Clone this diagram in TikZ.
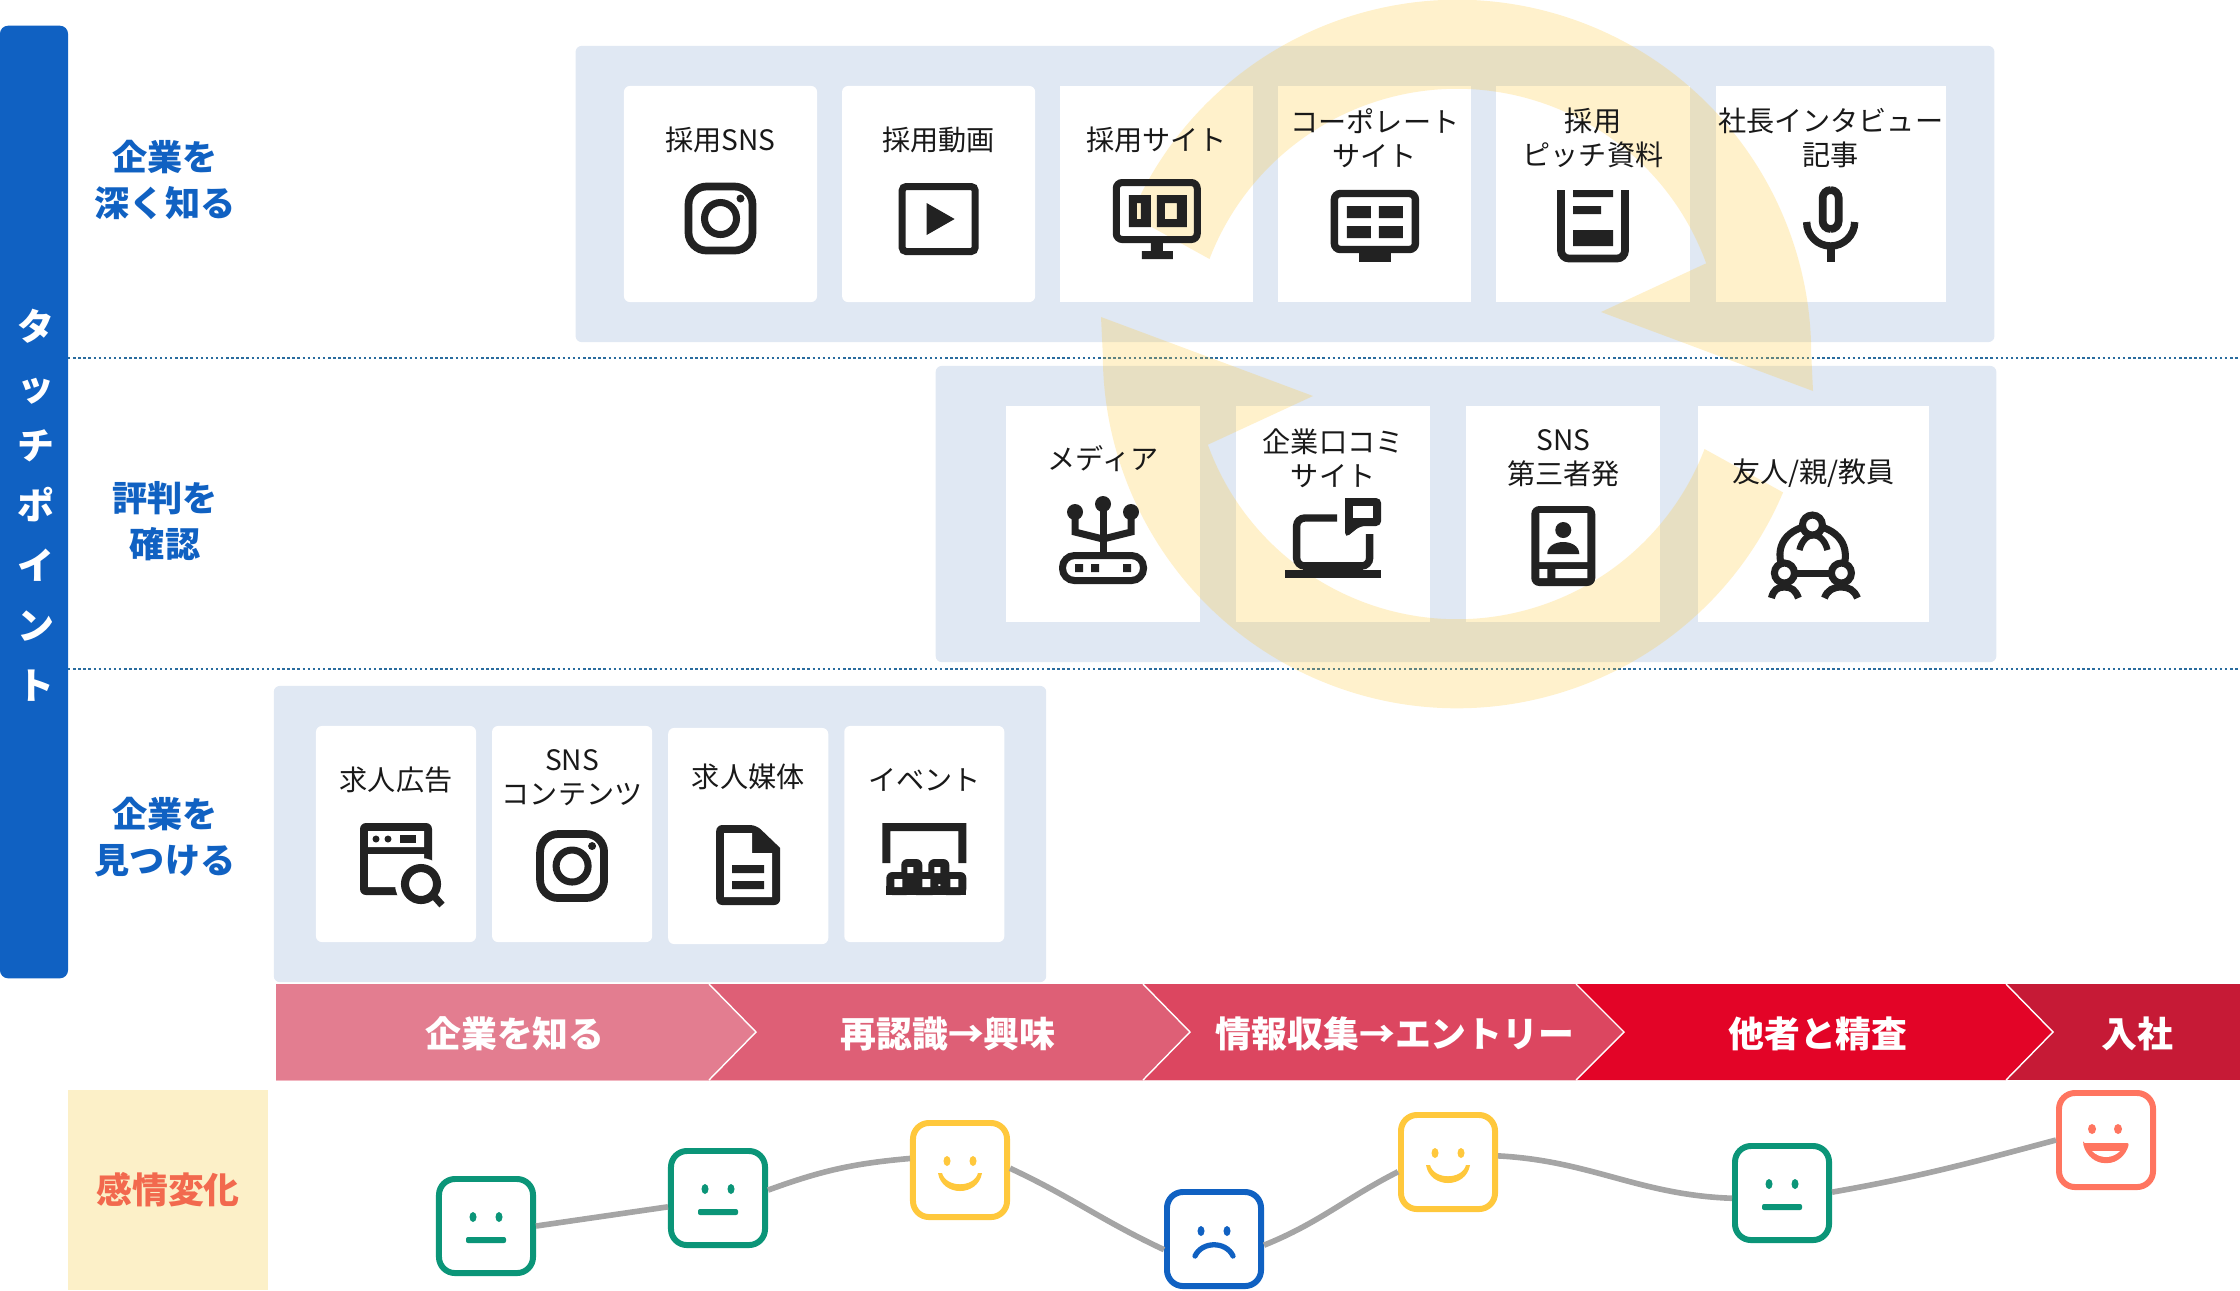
\documentclass[tikz,border=0pt]{standalone}
\usepackage{fontspec}
\setmainfont{Noto Sans CJK JP}
\usetikzlibrary{positioning}
\definecolor{sideblue}{HTML}{1061C2}
\definecolor{panelblue}{HTML}{E0E8F3}
\definecolor{dotblue}{HTML}{2A6C9E}
\definecolor{icondark}{HTML}{222222}
\definecolor{ringyellow}{HTML}{FFC832}
\definecolor{bandone}{HTML}{E37D90}
\definecolor{bandtwo}{HTML}{DE5F76}
\definecolor{bandthree}{HTML}{DC4660}
\definecolor{bandfour}{HTML}{E30427}
\definecolor{bandfive}{HTML}{C61A36}
\definecolor{moodbox}{HTML}{FCF0C8}
\definecolor{moodtext}{HTML}{F2694E}
\definecolor{moodline}{HTML}{A5A5A5}
\definecolor{facegreen}{HTML}{0B9578}
\definecolor{faceyellow}{HTML}{FFC83C}
\definecolor{facecoral}{HTML}{FF7560}
\tikzset{
  pics/iconinsta/.style={code={
    \draw[icondark, line width=2.2pt, rounded corners=0.18cm] (-32,-32) rectangle (32,32);
    \draw[icondark, line width=2pt] (0,0) circle[radius=16];
    \fill[icondark] (20,-20) circle[radius=4];
  }},
  pics/iconplay/.style={code={
    \draw[icondark, line width=2pt, rounded corners=0.04cm] (-36.5,-32.5) rectangle (36.5,32.5);
    \fill[icondark] (-12,-16) -- (16,0) -- (-12,16) -- cycle;
  }},
  pics/iconscreen/.style={code={
    \draw[icondark, line width=2pt, rounded corners=0.06cm] (-40.5,-36.5) rectangle (40.5,20.5);
    \fill[icondark, even odd rule] (-28,-24) rectangle (-6,8) (-20,-16) rectangle (-16,0) (0,-24) rectangle (30,8) (8,-16) rectangle (20,0);
    \fill[icondark] (-6,24) rectangle (6,32) (-15,32) rectangle (16,40);
  }},
  pics/iconboard/.style={code={
    \draw[icondark, line width=2.1pt, rounded corners=0.06cm] (-40.5,-32.5) rectangle (40.5,23.5);
    \fill[icondark] (-28,-20) rectangle (-4,-8) (4,-20) rectangle (28,-8);
    \fill[icondark] (-28,0) rectangle (-4,12) (4,0) rectangle (28,12);
    \fill[icondark] (-16,27) rectangle (16,36);
  }},
  pics/iconpitch/.style={code={
    \draw[icondark, line width=2.2pt, rounded corners=0.08cm] (-32,-36) -- (-32,32.5) -- (32,32.5) -- (32,-36);
    \fill[icondark] (-20,-36) rectangle (20,-29) (-20,-20) rectangle (8,-12) (-20,4) rectangle (20,20);
  }},
  pics/iconmic/.style={code={
    \draw[icondark, line width=2.2pt, rounded corners=0.08cm] (-8,-36) rectangle (8,3);
    \draw[icondark, line width=2.1pt] (-24,-4) .. controls (-24,9.2) and (-13.2,20) .. (0,20) .. controls (13.2,20) and (24,9.2) .. (24,-4);
    \draw[icondark, line width=2.2pt] (0,20) -- (0,36);
  }},
  pics/iconrouter/.style={code={
    \draw[icondark, line width=2pt, rounded corners=0.12cm] (-40.5,11.5) rectangle (40.5,36.5);
    \fill[icondark] (-28,20) rectangle (-20,28) (-12,20) rectangle (-4,28) (20,20) rectangle (28,28);
    \draw[icondark, line width=2pt] (0,-40) -- (0,8);
    \draw[icondark, line width=2pt] (-28,-32) -- (-28,-12) -- (0,-5) -- (28,-12) -- (28,-32);
    \fill[icondark] (-28,-32) circle[radius=8] (0,-40) circle[radius=8] (28,-32) circle[radius=8];
  }},
  pics/iconlaptop/.style={code={
    \fill[icondark] (-48,32) rectangle (48,40);
    \draw[icondark, line width=2.1pt, rounded corners=0.08cm] (4,-20) -- (-36.5,-20) -- (-36.5,28) -- (36.5,28) -- (36.5,-4);
    \fill[icondark] (-30,24) rectangle (30,33);
    \fill[icondark, rounded corners=0.05cm] (12,-40) -- (48,-40) -- (48,-12) -- (27,-12) -- (12,0) [sharp corners] -- cycle;
    \fill[white] (20,-32) rectangle (40,-20);
  }},
  pics/iconphone/.style={code={
    \fill[icondark, rounded corners=0.08cm] (-32,-40) rectangle (32,40);
    \fill[white] (-24,-33) rectangle (24,16) (-24,23) rectangle (-16,32) (-8,23) rectangle (24,32);
    \fill[icondark] (0,-16) circle[radius=8];
    \fill[icondark] (-16,8) .. controls (-16,0) and (-8,-4) .. (0,-4) .. controls (8,-4) and (16,0) .. (16,8) -- cycle;
  }},
  pics/iconpeople/.style={code={
    \draw[icondark, line width=2pt] (-29,18) .. controls (-42,-10) and (-25,-27) .. (-1,-30) .. controls (23,-27) and (40,-10) .. (28,18);
    \draw[icondark, line width=2pt] (-29,18) -- (28,18);
    \draw[icondark, line width=1.8pt] (-14,-5) .. controls (-12,-14) and (-6,-20) .. (0,-20) .. controls (6,-20) and (12,-14) .. (14,-5);
    \draw[icondark, line width=2pt, fill=white] (-1,-30) circle[radius=10];
    \draw[icondark, line width=2pt, fill=white] (-29,18) circle[radius=10];
    \draw[icondark, line width=2pt, fill=white] (28,18) circle[radius=10];
    \draw[icondark, line width=2pt] (-42,43) .. controls (-40,35) and (-36,32) .. (-29,32) .. controls (-22,32) and (-18,35) .. (-15,43);
    \draw[icondark, line width=2pt] (11,43) .. controls (14,35) and (20,32) .. (28,32) .. controls (35,32) and (41,35) .. (44,43);
  }},
  pics/iconsearch/.style={code={
    \fill[icondark, rounded corners=0.06cm] (-36,-37) rectangle (36,35);
    \fill[white] (-28,-29) rectangle (28,-13) (-28,-6) rectangle (28,27);
    \fill[icondark] (-20,-21) circle[radius=3.5] (-8,-21) circle[radius=3.5];
    \fill[icondark] (4,-25) rectangle (20,-17);
    \fill[white] (25,24) circle[radius=26];
    \draw[icondark, line width=2.3pt] (25,24) circle[radius=16];
    \draw[icondark, line width=2pt] (38,36) -- (46,45);
  }},
  pics/iconfile/.style={code={
    \fill[icondark, rounded corners=0.06cm] (-32,-40) -- (8,-40) [sharp corners] -- (32,-17) [rounded corners=0.06cm] -- (32,40) -- (-32,40) -- cycle;
    \fill[white] (-24,-32) -- (4,-32) -- (4,-12) -- (24,-12) -- (24,32) -- (-24,32) -- cycle;
    \fill[icondark] (-16,0) rectangle (16,8) (-16,16) rectangle (16,24);
  }},
  pics/iconevent/.style={code={
    \fill[icondark] (-42,-37) rectangle (42,-29) (-42,-37) rectangle (-34,3) (34,-37) rectangle (42,3);
    \fill[icondark, rounded corners=0.06cm] (-23,-1) rectangle (-2,24) (4,-1) rectangle (25,24);
    \fill[icondark, rounded corners=0.06cm] (-38,12) rectangle (-12,35) (-14,12) rectangle (14,35) (16,12) rectangle (42,35);
    \fill[icondark] (-38,26) rectangle (42,35);
    \fill[white] (-30,19) rectangle (-22,27) (-2,19) rectangle (6,27) (26,19) rectangle (34,27);
    \fill[white] (-17,7) rectangle (-11,13) (10,7) rectangle (16,13);
  }},
  pics/moodflat/.style={code={
    \fill[#1] (-13,-9) ellipse[x radius=3.5,y radius=5] (13,-9) ellipse[x radius=3.5,y radius=5];
    \fill[#1, rounded corners=0.02cm] (-20,11) rectangle (20,17);
  }},
  pics/moodsmile/.style={code={
    \fill[#1] (-13,-9) ellipse[x radius=3.5,y radius=5] (13,-9) ellipse[x radius=3.5,y radius=5];
    \fill[#1] (-22,3) .. controls (-18,27) and (18,27) .. (22,3) -- (18,3) .. controls (14,18) and (-14,18) .. (-18,3) -- cycle;
  }},
  pics/moodfrown/.style={code={
    \fill[#1] (-13,-8) ellipse[x radius=3.5,y radius=5] (13,-8) ellipse[x radius=3.5,y radius=5];
    \draw[#1, line width=1.5pt, line cap=round] (-19,17) .. controls (-12,2) and (12,2) .. (19,17);
  }},
  pics/moodopen/.style={code={
    \fill[#1] (-14,-11) ellipse[x radius=4,y radius=5] (12,-11) ellipse[x radius=4,y radius=5];
    \fill[#1, rounded corners=0.02cm] (-23,3) -- (23,3) .. controls (20,16) and (10,23) .. (0,23) .. controls (-10,23) and (-20,16) .. cycle;
    \fill[white] (-14,11) -- (14,11) .. controls (10,15) and (5,17) .. (0,17) .. controls (-5,17) and (-10,15) .. cycle;
  }}
}
\begin{document}
\begin{tikzpicture}[
  x=0.01cm, y=-0.01cm,
  sidebar/.style={fill=sideblue, rounded corners=0.08cm, minimum width=0.68cm, minimum height=9.52cm, inner sep=0pt, outer sep=0pt},
  sidetext/.style={text=white, align=center, inner sep=0pt, font=\fontsize{10.5}{17}\selectfont\bfseries},
  rowlabel/.style={text=sideblue, align=center, inner sep=0pt, font=\fontsize{10}{13}\selectfont\bfseries},
  panel/.style={fill=panelblue, rounded corners=0.06cm, minimum height=2.96cm, inner sep=0pt, outer sep=0pt},
  card/.style={fill=white, rounded corners=0.06cm, minimum width=1.93cm, minimum height=2.16cm, inner sep=0pt, outer sep=0pt},
  cardsq/.style={card, sharp corners},
  cardtext/.style={align=center, inner sep=0pt, text=black!90, font=\fontsize{8}{9.7}\selectfont},
  rowline/.style={draw=dotblue, line width=0.55pt, dash pattern=on 0.7pt off 0.75pt},
  bandtext/.style={text=white, inner sep=0pt, font=\fontsize{10.2}{12}\selectfont\bfseries},
  ring/.style={fill=ringyellow, fill opacity=0.25},
  moodlabel/.style={fill=moodbox, minimum width=2cm, minimum height=2cm, inner sep=0pt, outer sep=0pt, text=moodtext, font=\fontsize{10.2}{12}\selectfont\bfseries},
  face/.style={fill=white, line width=1.7pt, rounded corners=0.16cm, minimum width=0.94cm, minimum height=0.94cm, inner sep=0pt},
  wave/.style={draw=moodline, line width=1.6pt}
]
\useasboundingbox (0,0) rectangle (2240,1290);

\node[sidebar] (touch) at (34,502) {};
\node[sidetext] (ttouch) at (36,505) {タ\\ッ\\チ\\ポ\\イ\\ン\\ト};
\node[rowlabel] (deep) at (165,180) {企業を\\深く知る};
\node[rowlabel] (repute) at (165,521) {評判を\\確認};
\node[rowlabel] (find) at (165,837) {企業を\\見つける};

\draw[rowline] (touch.east |- 0,358) -- (2240,358);
\draw[rowline] (touch.east |- 0,669) -- (2240,669);

\node[panel, minimum width=14.18cm] (paneldeep) at (1285,194) {};
\node[panel, minimum width=10.6cm] (panelrepute) at (1466,514) {};
\node[panel, minimum width=7.72cm] (panelfind) at (660,834) {};

\node[card] (sns) at (720.5,194) {};
\node[card, right=0.25cm of sns] (video) {};
\node[cardsq, right=0.25cm of video] (site) {};
\node[cardsq, right=0.25cm of site] (corp) {};
\node[cardsq, right=0.25cm of corp] (pitch) {};
\node[cardsq, right=0.26cm of pitch, minimum width=2.3cm] (ceo) {};

\node[cardsq, minimum width=1.94cm] (media) at (1103,514) {};
\node[cardsq, minimum width=1.94cm, right=0.36cm of media] (kuchikomi) {};
\node[cardsq, minimum width=1.94cm, right=0.36cm of kuchikomi] (third) {};
\node[cardsq, minimum width=2.3cm, right=0.38cm of third] (friend) {};

\node[card, minimum width=1.6cm] (jobad) at (396,834) {};
\node[card, minimum width=1.6cm, right=0.16cm of jobad] (content) {};
\node[card, minimum width=1.6cm, right=0.16cm of content, yshift=-0.02cm] (jobmedia) {};
\node[card, minimum width=1.6cm, right=0.16cm of jobmedia, yshift=0.02cm] (event) {};

\coordinate (ringc) at (1457,354);
\fill[ring] ([shift={(157:3.54cm)}]ringc) arc[start angle=157, end angle=0, radius=3.54cm] -- (1813,391) -- (1601,312) -- ([shift={(20:2.65cm)}]ringc) arc[start angle=20, end angle=159, radius=2.65cm] -- cycle;
\fill[ring] ([shift={(337:3.54cm)}]ringc) arc[start angle=337, end angle=180, radius=3.54cm] -- (1101,317) -- (1313,396) -- ([shift={(200:2.65cm)}]ringc) arc[start angle=200, end angle=339, radius=2.65cm] -- cycle;

\node[cardtext] (tsns) at ([yshift=-0.54cm]sns.north) {採用SNS};
\node[cardtext] (tvideo) at ([yshift=-0.54cm]video.north) {採用動画};
\node[cardtext] (tsite) at ([yshift=-0.54cm]site.north) {採用サイト};
\node[cardtext] (tcorp) at ([yshift=-0.52cm]corp.north) {コーポレート\\サイト};
\node[cardtext] (tpitch) at ([yshift=-0.52cm]pitch.north) {採用\\ピッチ資料};
\node[cardtext] (tceo) at ([yshift=-0.52cm]ceo.north) {社長インタビュー\\記事};

\pic at ([yshift=-1.325cm]sns.north) {iconinsta};
\pic at ([yshift=-1.33cm]video.north) {iconplay};
\pic at ([yshift=-1.33cm]site.north) {iconscreen};
\pic at ([yshift=-1.40cm]corp.north) {iconboard};
\pic at ([yshift=-1.40cm]pitch.north) {iconpitch};
\pic at ([yshift=-1.40cm]ceo.north) {iconmic};

\node[cardtext] (tmedia) at ([yshift=-0.53cm]media.north) {メディア};
\node[cardtext] (tkuchikomi) at ([yshift=-0.52cm]kuchikomi.north) {企業口コミ\\サイト};
\node[cardtext] (tthird) at ([yshift=-0.52cm]third.north) {SNS\\第三者発};
\node[cardtext] (tfriend) at ([yshift=-0.67cm]friend.north) {友人/親/教員};

\pic at ([yshift=-1.38cm]media.north) {iconrouter};
\pic at ([yshift=-1.32cm]kuchikomi.north) {iconlaptop};
\pic at ([yshift=-1.40cm]third.north) {iconphone};
\pic at ([yshift=-1.49cm]friend.north) {iconpeople};

\node[cardtext] (tjobad) at ([yshift=-0.54cm]jobad.north) {求人広告};
\node[cardtext] (tcontent) at ([yshift=-0.52cm]content.north) {SNS\\コンテンツ};
\node[cardtext] (tjobmedia) at ([yshift=-0.49cm]jobmedia.north) {求人媒体};
\node[cardtext] (tevent) at ([yshift=-0.54cm]event.north) {イベント};

\pic at ([yshift=-1.34cm]jobad.north) {iconsearch};
\pic at ([yshift=-1.40cm]content.north) {iconinsta};
\pic at ([yshift=-1.37cm]jobmedia.north) {iconfile};
\pic at ([yshift=-1.34cm]event.north) {iconevent};

\fill[bandfive] (276,984) rectangle (2240,1080);
\foreach \xb/\xt/\col in {2006/2053/bandfour, 1576/1624/bandthree, 1143/1190/bandtwo, 709/756/bandone} {
  \fill[\col] (276,984) -- (\xb,984) -- (\xt,1032) -- (\xb,1080) -- (276,1080) -- cycle;
  \draw[white, line width=0.4pt] (\xb,984) -- (\xt,1032) -- (\xb,1080);
}
\node[bandtext] (know) at (515,1034) {企業を知る};
\node[bandtext] (interest) at (948,1034) {再認識→興味};
\node[bandtext] (entry) at (1395,1034) {情報収集→エントリー};
\node[bandtext] (compare) at (1818,1034) {他者と精査};
\node[bandtext] (join) at (2137,1034) {入社};

\node[moodlabel] (mood) at (168,1190) {感情変化};

\node[face, draw=facegreen] (f1) at (486,1226) {};
\node[face, draw=facegreen] (f2) at (718,1198) {};
\node[face, draw=faceyellow] (f3) at (960,1170) {};
\node[face, draw=sideblue] (f4) at (1214,1239) {};
\node[face, draw=faceyellow] (f5) at (1448,1162) {};
\node[face, draw=facegreen] (f6) at (1782,1193) {};
\node[face, draw=facecoral] (f7) at (2106,1140) {};

\pic at (f1) {moodflat=facegreen};
\pic at (f2) {moodflat=facegreen};
\pic at (f3) {moodsmile=faceyellow};
\pic at (f4) {moodfrown=sideblue};
\pic at (f5) {moodsmile=faceyellow};
\pic at (f6) {moodflat=facegreen};
\pic at (f7) {moodopen=facecoral};

\draw[wave] (f1.east) -- (f2.190);
\draw[wave] (f2.9) to[out=20, in=185] (f3.167);
\draw[wave] (f3.2) to[out=-25, in=155] (f4.192);
\draw[wave] (f4.-7) to[out=22, in=207] (f5.191);
\draw[wave] (f5.7) to[out=-3, in=178] (f6.186);
\draw[wave] (f6.1) to[out=10, in=195] (f7.west);

\end{tikzpicture}
\end{document}
